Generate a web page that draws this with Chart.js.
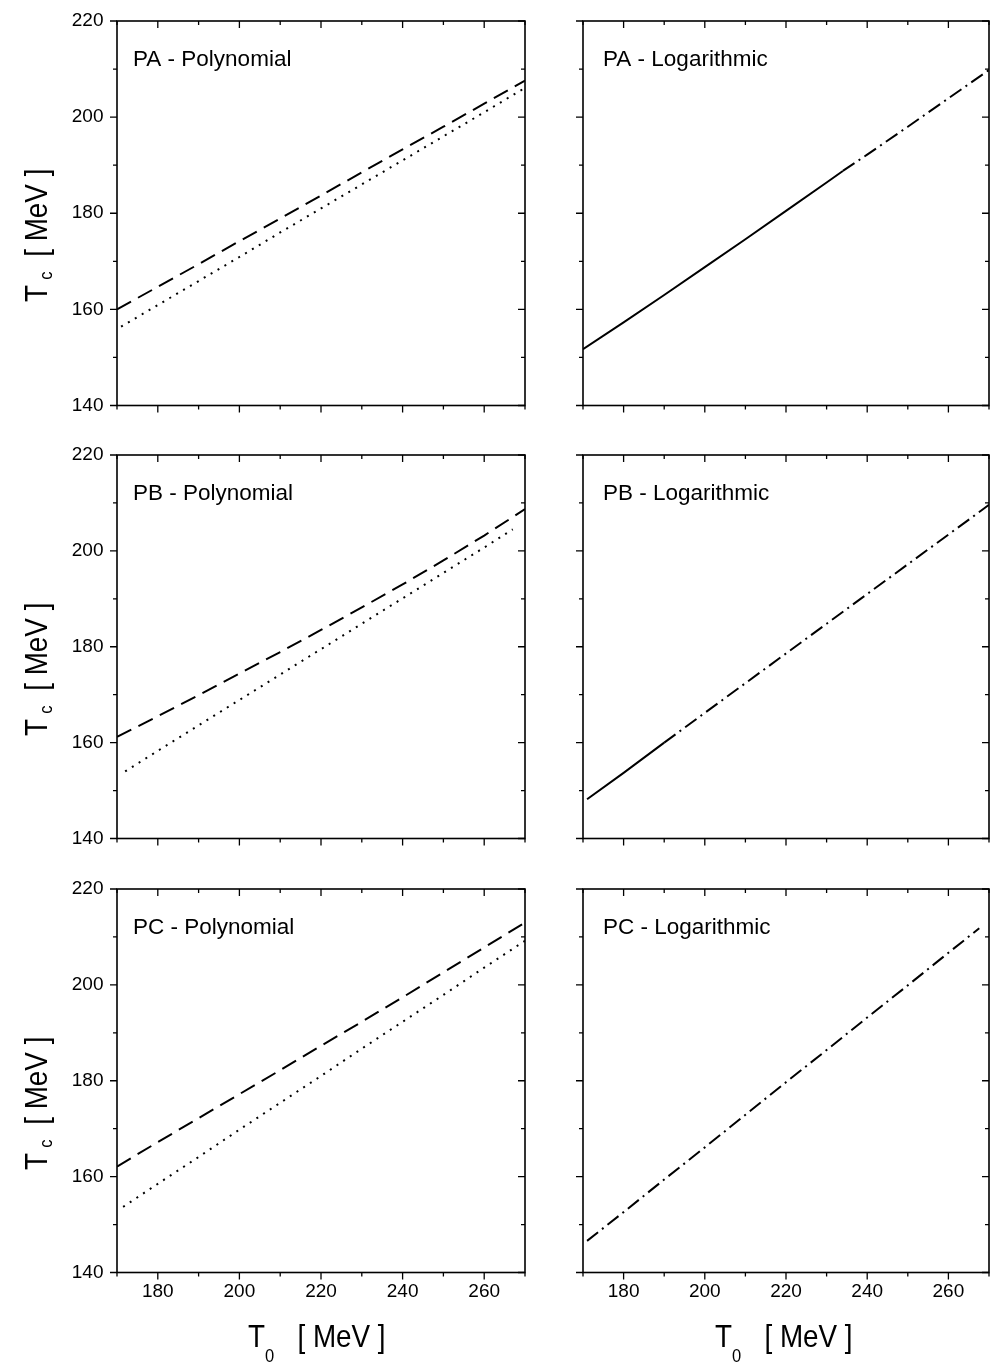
<!DOCTYPE html>
<html>
<head>
<meta charset="utf-8">
<script src="https://cdn.jsdelivr.net/npm/chart.js@4.4.1/dist/chart.umd.min.js"></script>
<style>
  body { margin: 0; background: #fff; }
  #wrap { position: relative; width: 990px; height: 1362px; background: #fff; overflow: hidden;
          font-family: "Liberation Sans", Arial, sans-serif; color: #000; }
  #wrap canvas { position: absolute; left: 0; top: 0; }
  .ttl { position: absolute; font-size: 32px; line-height: 32px; white-space: nowrap; }
  .xt { transform-origin: 0 0; transform: scaleX(0.87); }
  .yt { transform-origin: 0 0; transform: rotate(-90deg) scaleX(0.87); }
  .ttl sub { font-size: 19px; line-height: 1; vertical-align: -15px; }
  .yt sub { vertical-align: -5px; margin-left: 6px; margin-right: 8px; }
</style>
</head>
<body>
<div id="wrap">
  <canvas id="c1" width="990" height="1362"></canvas>
  <canvas id="c2" width="990" height="1362"></canvas>
  <canvas id="c3" width="990" height="1362"></canvas>
  <canvas id="c4" width="990" height="1362"></canvas>
  <canvas id="c5" width="990" height="1362"></canvas>
  <canvas id="c6" width="990" height="1362"></canvas>

  <div class="ttl yt" style="left:20px; top:302px;">T<sub>c</sub>&nbsp;[ MeV ]</div>
  <div class="ttl yt" style="left:20px; top:736px;">T<sub>c</sub>&nbsp;[ MeV ]</div>
  <div class="ttl yt" style="left:20px; top:1170px;">T<sub>c</sub>&nbsp;[ MeV ]</div>
  <div class="ttl xt" style="left:248px; top:1320px;">T<sub>0</sub>&nbsp;&nbsp;&nbsp;[ MeV ]</div>
  <div class="ttl xt" style="left:715px; top:1320px;">T<sub>0</sub>&nbsp;&nbsp;&nbsp;[ MeV ]</div>
</div>
<script>
// T0 grid (MeV)
const t0Full = [170, 180, 190, 200, 210, 220, 230, 240, 250, 260, 270];

// PA
const paPolyDashed = [160.0, 164.7, 169.4, 174.2, 178.9, 183.7, 188.5, 193.3, 198.0, 202.8, 207.6];
const paPolyDottedT0 = [171, 180, 190, 200, 210, 220, 230, 240, 250, 260, 270];
const paPolyDotted = [156.4, 160.9, 165.9, 170.9, 176.0, 181.0, 186.0, 191.0, 196.0, 201.0, 206.1];
const paLogSolidT0 = [170, 180, 190, 200, 210, 220, 230, 234];
const paLogSolid = [151.7, 157.3, 163.0, 168.8, 174.6, 180.5, 186.4, 188.8];
const paLogDashDotT0 = [234, 240, 250, 260, 270];
const paLogDashDot = [188.8, 192.2, 198.0, 203.9, 209.8];

// PB
const pbPolyDashed = [161.2, 165.5, 169.9, 174.4, 178.9, 183.5, 188.2, 193.0, 198.0, 203.2, 208.7];
const pbPolyDottedT0 = [172, 180, 190, 200, 210, 220, 230, 240, 250, 260, 267];
const pbPolyDotted = [154.0, 158.3, 163.6, 168.9, 174.2, 179.5, 184.8, 190.1, 195.4, 200.7, 204.5];
const pbLogSolidT0 = [171, 180, 190];
const pbLogSolid = [148.2, 153.7, 160.0];
const pbLogDashDotT0 = [190, 200, 210, 220, 230, 240, 250, 260, 270];
const pbLogDashDot = [160.0, 166.2, 172.4, 178.6, 184.8, 191.0, 197.2, 203.4, 209.6];

// PC
const pcPolyDashed = [162.1, 167.2, 172.2, 177.2, 182.2, 187.3, 192.3, 197.4, 202.6, 207.8, 213.0];
const pcPolyDottedT0 = [171.5, 180, 190, 200, 210, 220, 230, 240, 250, 260, 270];
const pcPolyDotted = [153.7, 158.5, 164.1, 169.8, 175.4, 181.0, 186.7, 192.3, 197.9, 203.6, 209.2];
const pcLogDashDotT0 = [171, 180, 190, 200, 210, 220, 230, 240, 250, 260, 267.6];
const pcLogDashDot = [146.6, 152.6, 159.4, 166.1, 172.9, 179.7, 186.4, 193.2, 199.9, 206.7, 211.8];

const xMin = 170, xMax = 270, yMin = 140, yMax = 220, step = 10;

Chart.defaults.font.family = '"Liberation Sans", Arial, sans-serif';
Chart.defaults.color = '#000';

const W = 990, H = 1362;
const rows = [{ top: 21, bottom: 405.5 }, { top: 455, bottom: 838.5 }, { top: 889, bottom: 1272.5 }];
const cols = [{ left: 117, right: 525, dx: 16 }, { left: 583, right: 989, dx: 20 }];

function pts(xs, ys) {
  return xs.map((x, i) => ({ x: x, y: ys[i] }));
}

function line(xs, ys, dash) {
  return {
    data: pts(xs, ys),
    borderColor: '#000',
    borderWidth: 2,
    borderDash: dash,
    borderCapStyle: 'butt',
    pointRadius: 0,
    tension: 0,
    fill: false
  };
}

const DASH = [16, 8], DOT = [2, 6], DASHDOT = [14, 5, 2, 5], SOLID = [];

// frame, ticks on all four sides, panel label
const framePlugin = {
  id: 'frame',
  afterDraw(chart, args, opts) {
    const { ctx, chartArea: a, scales: { x, y } } = chart;
    ctx.save();
    ctx.strokeStyle = '#000';
    ctx.lineWidth = 1.6;
    ctx.strokeRect(a.left, a.top, a.right - a.left, a.bottom - a.top);
    ctx.lineWidth = 1.3;
    ctx.beginPath();
    x.ticks.forEach(t => {
      const px = x.getPixelForValue(t.value);
      const len = t.value % 20 === 0 ? 7 : 4;
      ctx.moveTo(px, a.bottom); ctx.lineTo(px, a.bottom + len);
      ctx.moveTo(px, a.top); ctx.lineTo(px, a.top + len);
    });
    y.ticks.forEach(t => {
      const py = y.getPixelForValue(t.value);
      const len = t.value % 20 === 0 ? 7 : 4;
      ctx.moveTo(a.left, py); ctx.lineTo(a.left - len, py);
      ctx.moveTo(a.right, py); ctx.lineTo(a.right - len, py);
    });
    ctx.stroke();
    ctx.fillStyle = '#000';
    ctx.font = '22.5px "Liberation Sans", Arial, sans-serif';
    ctx.textBaseline = 'alphabetic';
    ctx.textAlign = 'left';
    ctx.fillText(opts.label, a.left + opts.dx, a.top + 45);
    ctx.restore();
  }
};

function panel(id, r, c, label, datasets) {
  const row = rows[r], col = cols[c];
  const showX = r === 2, showY = c === 0;
  new Chart(document.getElementById(id), {
    type: 'line',
    data: { datasets: datasets },
    plugins: [framePlugin],
    options: {
      responsive: false,
      animation: false,
      devicePixelRatio: 1,
      layout: { padding: { left: 0, right: W - col.right, top: row.top, bottom: 0 } },
      plugins: {
        legend: { display: false },
        tooltip: { enabled: false },
        frame: { label: label, dx: col.dx }
      },
      scales: {
        x: {
          type: 'linear', min: xMin, max: xMax,
          grid: { display: false, drawTicks: false },
          border: { display: false },
          afterFit: s => { s.height = H - row.bottom; s.paddingLeft = 0; s.paddingRight = 0; },
          ticks: {
            display: showX, stepSize: step, autoSkip: false, maxRotation: 0, padding: 8,
            font: { size: 19 },
            callback: v => (v % 20 === 0 ? String(v) : '')
          }
        },
        y: {
          type: 'linear', min: yMin, max: yMax,
          grid: { display: false, drawTicks: false },
          border: { display: false },
          afterFit: s => { s.width = col.left; s.paddingTop = 0; s.paddingBottom = 0; },
          ticks: {
            display: showY, stepSize: step, autoSkip: false, padding: 13.5,
            font: { size: 19 },
            callback: v => (v % 20 === 0 ? String(v) : '')
          }
        }
      }
    }
  });
}

panel('c1', 0, 0, 'PA - Polynomial', [
  line(t0Full, paPolyDashed, DASH),
  line(paPolyDottedT0, paPolyDotted, DOT)
]);
panel('c2', 0, 1, 'PA - Logarithmic', [
  line(paLogSolidT0, paLogSolid, SOLID),
  line(paLogDashDotT0, paLogDashDot, DASHDOT)
]);
panel('c3', 1, 0, 'PB - Polynomial', [
  line(t0Full, pbPolyDashed, DASH),
  line(pbPolyDottedT0, pbPolyDotted, DOT)
]);
panel('c4', 1, 1, 'PB - Logarithmic', [
  line(pbLogSolidT0, pbLogSolid, SOLID),
  line(pbLogDashDotT0, pbLogDashDot, DASHDOT)
]);
panel('c5', 2, 0, 'PC - Polynomial', [
  line(t0Full, pcPolyDashed, DASH),
  line(pcPolyDottedT0, pcPolyDotted, DOT)
]);
panel('c6', 2, 1, 'PC - Logarithmic', [
  line(pcLogDashDotT0, pcLogDashDot, DASHDOT)
]);
</script>
</body>
</html>
